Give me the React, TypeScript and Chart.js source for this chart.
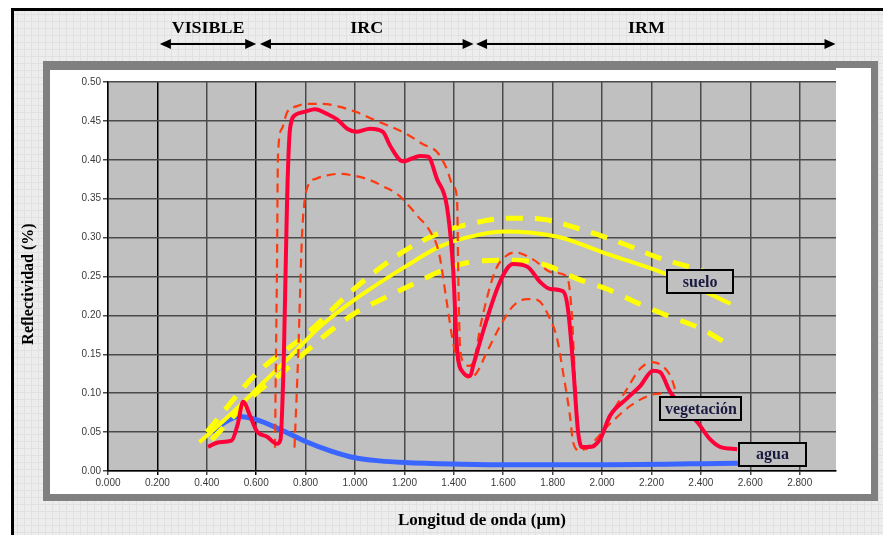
import React, { useEffect, useRef } from "react";
import { Chart, registerables } from "chart.js";

Chart.register(...registerables);

// ---------- data ----------
const xTicks = [0, 0.2, 0.4, 0.6, 0.8, 1.0, 1.2, 1.4, 1.6, 1.8, 2.0, 2.2, 2.4, 2.6, 2.8];
const yTicks = [0, 0.05, 0.1, 0.15, 0.2, 0.25, 0.3, 0.35, 0.4, 0.45, 0.5];

const regions = [
  { label: "VISIBLE", from: 0.21, to: 0.6 },
  { label: "IRC", from: 0.615, to: 1.48 },
  { label: "IRM", from: 1.49, to: 2.945 },
];

const sueloMedia: [number, number][] = [
  [0.37, 0.037], [0.49, 0.071], [0.63, 0.114], [0.74, 0.148], [0.86, 0.186], [1.02, 0.225],
  [1.21, 0.264], [1.34, 0.288], [1.45, 0.3], [1.6, 0.308], [1.82, 0.301], [2.02, 0.279],
  [2.26, 0.253], [2.52, 0.215],
];
const sueloMax: [number, number][] = [
  [0.4, 0.05], [0.6, 0.125], [0.8, 0.175], [1.0, 0.235], [1.2, 0.283], [1.35, 0.307], [1.5, 0.32],
  [1.62, 0.325], [1.75, 0.324], [1.9, 0.312], [2.07, 0.294], [2.23, 0.274], [2.4, 0.258], [2.52, 0.245],
];
const sueloMin: [number, number][] = [
  [0.42, 0.04], [0.6, 0.1], [0.7, 0.125], [0.8, 0.153], [0.9, 0.18], [1.0, 0.203], [1.13, 0.224],
  [1.26, 0.244], [1.37, 0.26], [1.5, 0.27], [1.64, 0.271], [1.77, 0.265], [1.9, 0.247], [2.02, 0.234],
  [2.15, 0.215], [2.27, 0.199], [2.4, 0.183], [2.51, 0.163],
];

const agua: [number, number][] = [
  [0.42, 0.05], [0.47, 0.062], [0.53, 0.07], [0.6, 0.066], [0.7, 0.053], [0.8, 0.038], [0.9, 0.026],
  [1.0, 0.017], [1.1, 0.013], [1.2, 0.011], [1.4, 0.009], [1.6, 0.008], [2.0, 0.008], [2.55, 0.01],
];

const vegetacionMedia: [number, number][] = [
  [0.405, 0.031], [0.45, 0.037], [0.5, 0.039], [0.525, 0.06], [0.547, 0.089], [0.575, 0.071],
  [0.603, 0.051], [0.644, 0.044], [0.684, 0.035], [0.698, 0.04], [0.712, 0.15], [0.725, 0.35],
  [0.737, 0.44], [0.76, 0.458], [0.8, 0.462], [0.838, 0.465], [0.887, 0.459], [0.927, 0.452],
  [0.968, 0.44], [1.008, 0.436], [1.06, 0.44], [1.113, 0.436], [1.142, 0.418], [1.194, 0.398],
  [1.263, 0.405], [1.296, 0.404], [1.332, 0.375], [1.372, 0.34], [1.397, 0.26], [1.413, 0.157],
  [1.437, 0.127], [1.466, 0.122], [1.478, 0.135], [1.518, 0.179], [1.575, 0.234], [1.615, 0.26],
  [1.64, 0.266], [1.7, 0.262], [1.749, 0.243], [1.79, 0.234], [1.842, 0.231], [1.862, 0.208],
  [1.883, 0.135], [1.903, 0.05], [1.919, 0.031], [1.951, 0.031], [1.992, 0.041], [2.032, 0.071],
  [2.1, 0.093], [2.154, 0.109], [2.206, 0.129], [2.235, 0.127], [2.275, 0.102], [2.33, 0.08],
  [2.385, 0.063], [2.437, 0.041], [2.478, 0.031], [2.547, 0.028],
];
const vegetacionMax: [number, number][] = [
  [0.676, 0.03], [0.68, 0.15], [0.684, 0.26], [0.688, 0.405], [0.704, 0.44], [0.725, 0.461],
  [0.765, 0.469], [0.806, 0.472], [0.87, 0.472], [0.939, 0.468], [1.008, 0.461], [1.073, 0.452],
  [1.142, 0.443], [1.21, 0.433], [1.275, 0.42], [1.332, 0.41], [1.372, 0.388], [1.397, 0.366],
  [1.413, 0.35], [1.418, 0.25], [1.425, 0.16], [1.44, 0.14], [1.46, 0.135], [1.48, 0.14],
  [1.51, 0.19], [1.567, 0.257], [1.61, 0.276], [1.65, 0.281], [1.72, 0.272], [1.8, 0.255],
  [1.858, 0.25], [1.878, 0.2], [1.89, 0.12], [1.9, 0.06], [1.915, 0.03], [1.95, 0.028],
  [1.99, 0.04], [2.05, 0.08], [2.1, 0.105], [2.15, 0.13], [2.2, 0.14], [2.24, 0.136],
  [2.28, 0.12], [2.3, 0.1],
];
const vegetacionMin: [number, number][] = [
  [0.755, 0.03], [0.77, 0.15], [0.785, 0.3], [0.795, 0.345], [0.81, 0.367], [0.845, 0.376],
  [0.887, 0.38], [0.94, 0.382], [0.99, 0.38], [1.06, 0.374], [1.113, 0.366], [1.17, 0.356],
  [1.215, 0.342], [1.255, 0.327], [1.3, 0.31], [1.34, 0.28], [1.37, 0.22], [1.4, 0.16],
  [1.43, 0.13], [1.46, 0.12], [1.49, 0.125], [1.534, 0.153], [1.587, 0.186], [1.64, 0.212],
  [1.696, 0.221], [1.737, 0.22], [1.79, 0.195], [1.818, 0.17], [1.842, 0.127], [1.87, 0.071],
  [1.883, 0.037], [1.911, 0.026], [1.95, 0.033], [2.03, 0.06], [2.12, 0.085], [2.2, 0.098],
  [2.25, 0.1],
];

const labels = [
  { text: "suelo", x: 2.397, y: 0.243, w: 66, h: 23 },
  { text: "vegetación", x: 2.4, y: 0.08, w: 81, h: 23 },
  { text: "agua", x: 2.69, y: 0.0215, w: 67, h: 23 },
];

const toPts = (arr: [number, number][]) => arr.map(([x, y]) => ({ x, y }));

const W = 883;
const H = 535;

const decor = {
  id: "decor",
  beforeDraw(chart: any) {
    const ctx = chart.ctx as CanvasRenderingContext2D;
    ctx.save();
    ctx.fillStyle = "#ffffff";
    ctx.fillRect(0, 0, W, H);
    ctx.fillStyle = "#ededed";
    ctx.fillRect(11, 8, W - 11, H - 8);
    ctx.strokeStyle = "#e1e1e1";
    ctx.lineWidth = 1;
    for (let x = 17.5; x < W; x += 7) {
      ctx.beginPath();
      ctx.moveTo(x, 8);
      ctx.lineTo(x, H);
      ctx.stroke();
    }
    for (let y = 14.5; y < H; y += 7) {
      ctx.beginPath();
      ctx.moveTo(11, y);
      ctx.lineTo(W, y);
      ctx.stroke();
    }
    ctx.fillStyle = "#000";
    ctx.fillRect(11, 8, W - 11, 3);
    ctx.fillRect(11, 8, 3, H - 8);
    // frame
    ctx.fillStyle = "#808080";
    ctx.fillRect(43, 61, 835, 440);
    ctx.fillStyle = "#ffffff";
    ctx.fillRect(50, 68, 821, 426);
    ctx.fillStyle = "#808080";
    ctx.fillRect(50, 68, 786, 2);
    const a = chart.chartArea;
    ctx.fillStyle = "#c0c0c0";
    ctx.fillRect(a.left, a.top, a.right - a.left, a.bottom - a.top);
    ctx.restore();
  },
  afterDatasetsDraw(chart: any) {
    const ctx = chart.ctx as CanvasRenderingContext2D;
    const xs = chart.scales.x;
    const ys = chart.scales.y;
    ctx.save();
    for (const l of labels) {
      const cx = xs.getPixelForValue(l.x);
      const cy = ys.getPixelForValue(l.y);
      const x0 = Math.round(cx - l.w / 2);
      const y0 = Math.round(cy - l.h / 2);
      ctx.fillStyle = "#c0c0c0";
      ctx.fillRect(x0, y0, l.w, l.h);
      ctx.strokeStyle = "#000";
      ctx.lineWidth = 2;
      ctx.strokeRect(x0, y0, l.w, l.h);
      ctx.fillStyle = "#1a1a40";
      ctx.font = "bold 16px 'Liberation Serif', serif";
      ctx.textAlign = "center";
      ctx.textBaseline = "middle";
      ctx.fillText(l.text, cx, cy + 1);
    }
    ctx.restore();
  },
  afterDraw(chart: any) {
    const ctx = chart.ctx as CanvasRenderingContext2D;
    const xs = chart.scales.x;
    ctx.save();
    // region arrows
    const ay = 44;
    for (const r of regions) {
      const x1 = xs.getPixelForValue(r.from);
      const x2 = xs.getPixelForValue(r.to);
      ctx.strokeStyle = "#000";
      ctx.lineWidth = 2;
      ctx.beginPath();
      ctx.moveTo(x1 + 8, ay);
      ctx.lineTo(x2 - 8, ay);
      ctx.stroke();
      ctx.fillStyle = "#000";
      ctx.beginPath();
      ctx.moveTo(x1, ay);
      ctx.lineTo(x1 + 11, ay - 5);
      ctx.lineTo(x1 + 11, ay + 5);
      ctx.closePath();
      ctx.fill();
      ctx.beginPath();
      ctx.moveTo(x2, ay);
      ctx.lineTo(x2 - 11, ay - 5);
      ctx.lineTo(x2 - 11, ay + 5);
      ctx.closePath();
      ctx.fill();
      const cx = r.label === "IRM" ? xs.getPixelForValue(2.18) : (x1 + x2) / 2;
      ctx.save();
      ctx.translate(cx, 29);
      ctx.scale(1.12, 1);
      ctx.font = "bold 16px 'Liberation Serif', serif";
      ctx.textAlign = "center";
      ctx.textBaseline = "middle";
      ctx.fillStyle = "#000";
      ctx.fillText(r.label, 0, 0);
      ctx.restore();
    }
    // axis titles
    ctx.fillStyle = "#000";
    ctx.font = "bold 17px 'Liberation Serif', serif";
    ctx.textAlign = "center";
    ctx.textBaseline = "middle";
    ctx.fillText("Longitud de onda (\u00b5m)", 482, 521);
    ctx.save();
    ctx.translate(29, 284);
    ctx.rotate(-Math.PI / 2);
    ctx.font = "bold 16px 'Liberation Serif', serif";
    ctx.fillText("Reflectividad (%)", 0, 0);
    ctx.restore();
    ctx.restore();
  },
};

const isDark = (v: number) => Math.abs(v - 0.2) < 1e-6 || Math.abs(v - 0.6) < 1e-6;

export default function App() {
  const ref = useRef<HTMLCanvasElement | null>(null);
  useEffect(() => {
    if (!ref.current) return;
    const yellow = "#ffff00";
    const chart = new Chart(ref.current, {
      type: "scatter",
      data: {
        datasets: [
          { data: toPts(vegetacionMedia), borderColor: "#ff0038", borderWidth: 4, order: 1 },
          { data: toPts(vegetacionMax), borderColor: "#ff3a10", borderWidth: 2.2, borderDash: [9, 6], order: 2 },
          { data: toPts(vegetacionMin), borderColor: "#ff3a10", borderWidth: 2.2, borderDash: [9, 6], order: 2 },
          { data: toPts(sueloMedia), borderColor: yellow, borderWidth: 4, order: 3 },
          { data: toPts(sueloMax), borderColor: yellow, borderWidth: 5, borderDash: [17, 12], order: 3 },
          { data: toPts(sueloMin), borderColor: yellow, borderWidth: 5, borderDash: [17, 13], order: 3 },
          { data: toPts(agua), borderColor: "#3a66ff", borderWidth: 5, order: 4 },
        ].map((d) => ({
          ...d,
          showLine: true,
          pointRadius: 0,
          fill: false,
          cubicInterpolationMode: "monotone" as const,
          borderCapStyle: "butt" as const,
        })),
      },
      options: {
        responsive: false,
        devicePixelRatio: 1,
        animation: false,
        events: [],
        layout: { padding: { left: 0, top: 82, right: 47, bottom: 40 } },
        plugins: { legend: { display: false }, tooltip: { enabled: false } },
        scales: {
          x: {
            type: "linear",
            min: 0,
            max: 2.947,
            afterBuildTicks: (s: any) => {
              s.ticks = xTicks.map((v) => ({ value: v }));
            },
            afterFit: (s: any) => {
              s.height = 24;
            },
            grid: {
              color: (c: any) => (c.tick && isDark(c.tick.value) ? "#000000" : "#4a4a4a"),
              lineWidth: 1.5,
              tickLength: 4,
            },
            border: { color: "#000", width: 1.5 },
            ticks: {
              padding: 2,
              maxRotation: 0,
              autoSkip: false,
              color: "#3a3a3a",
              font: { family: "'Liberation Sans', Arial, sans-serif", size: 10 },
              callback: (v: any) => Number(v).toFixed(3),
            },
          },
          y: {
            type: "linear",
            min: 0,
            max: 0.5,
            afterBuildTicks: (s: any) => {
              s.ticks = yTicks.map((v) => ({ value: v }));
            },
            afterFit: (s: any) => {
              s.width = 108;
            },
            grid: { color: "#4a4a4a", lineWidth: 1.5, tickLength: 5 },
            border: { color: "#000", width: 1.5 },
            ticks: {
              padding: 2,
              autoSkip: false,
              color: "#3a3a3a",
              font: { family: "'Liberation Sans', Arial, sans-serif", size: 10 },
              callback: (v: any) => Number(v).toFixed(2),
            },
          },
        },
      },
      plugins: [decor],
    } as any);
    return () => chart.destroy();
  }, []);
  return (
    <div style={{ position: "fixed", left: 0, top: 0, width: W, height: H }}>
      <canvas ref={ref} width={W} height={H} style={{ display: "block" }} />
    </div>
  );
}
